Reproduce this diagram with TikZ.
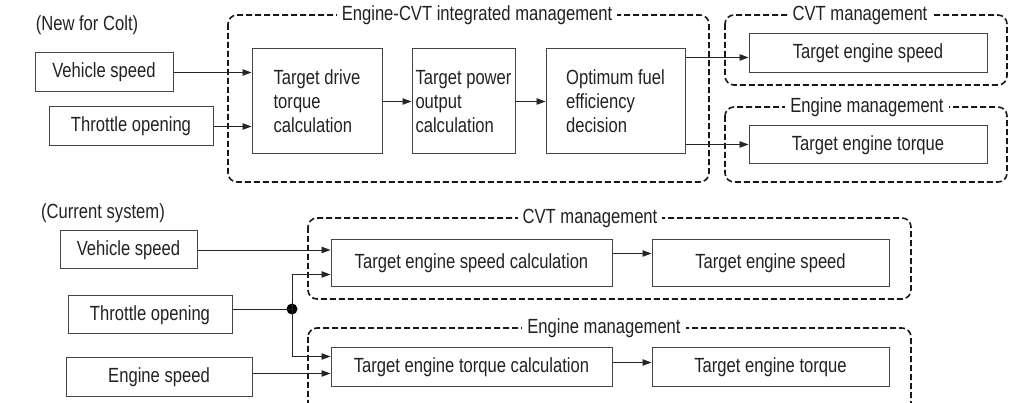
\documentclass[tikz,border=0pt]{standalone}
\usepackage{fontspec}
\setmainfont{Liberation Sans}[FakeStretch=0.81]
\usetikzlibrary{arrows.meta}
\definecolor{inkgray}{HTML}{222222}
\definecolor{boxgray}{HTML}{444444}

\begin{document}
\begin{tikzpicture}[x=1pt, y=-1pt,
    txt/.style={font=\fontsize{20.5}{24}\selectfont, text=inkgray},
    blk/.style={txt, draw=boxgray, line width=1pt, inner sep=0pt, align=left},
    grp/.style={draw=black!90, line width=1.6pt, dash pattern=on 6pt off 3pt, rounded corners=9pt},
    grplbl/.style={txt, fill=white, inner xsep=5pt, inner ysep=1pt},
    arr/.style={draw=black!85, line width=0.9pt, -{Triangle[length=9pt,width=6.5pt]}},
    dot/.style={circle, fill=black, inner sep=0pt, minimum size=11pt}]

      \useasboundingbox (0,0) rectangle (1010,403);

      \draw[grp] (228,15) rectangle (709,182);
      \draw[grp] (725,15) rectangle (1007,85);
      \draw[grp] (725,107) rectangle (1007,182);
      \draw[grp] (308,218) rectangle (911,299);
      \draw[grp] (308,328) rectangle (911,430);

      \node[grplbl] (ecvtlbl) at (477,15) {Engine-CVT integrated management};
      \node[grplbl] (cvtlbl1) at (860,15) {CVT management};
      \node[grplbl] (englbl1) at (867,107) {Engine management};
      \node[grplbl] (cvtlbl2) at (590,218) {CVT management};
      \node[grplbl] (englbl2) at (604,328) {Engine management};

      \node[txt] (newlbl) at (87,25) {(New for Colt)};
      \node[blk, minimum width=138pt, minimum height=39pt] (vs1) at (104,72.5) {Vehicle speed};
      \node[blk, minimum width=164pt, minimum height=39pt] (tp1) at (131,126.5) {Throttle opening};
      \node[blk, minimum width=130pt, minimum height=105pt] (tdtc) at (317,101.5) {Target drive\\torque\\calculation};
      \node[blk, minimum width=103pt, minimum height=105pt] (tpoc) at (463.5,101.5) {Target power\\output\\calculation};
      \node[blk, minimum width=139pt, minimum height=105pt] (ofed) at (615.5,101.5) {Optimum fuel\\efficiency\\decision};
      \node[blk, minimum width=238pt, minimum height=39pt] (tes1) at (868,53.5) {Target engine speed};
      \node[blk, minimum width=238pt, minimum height=38pt] (tet1) at (868,145) {Target engine torque};

      \coordinate (o1) at ([yshift=-9pt]ofed.north east);
      \coordinate (o2) at ([yshift=10pt]ofed.south east);

      \draw[arr] (vs1.east) -- (vs1.east -| tdtc.west);
      \draw[arr] (tp1.east) -- (tp1.east -| tdtc.west);
      \draw[arr] (tdtc.east) -- (tpoc.west);
      \draw[arr] (tpoc.east) -- (ofed.west);
      \draw[arr] (o1) -- (o1 -| tes1.west);
      \draw[arr] (o2) -- (o2 -| tet1.west);

      \node[txt] (curlbl) at (103,213) {(Current system)};
      \node[blk, minimum width=137pt, minimum height=38pt] (vs2) at (128.5,250) {Vehicle speed};
      \node[blk, minimum width=164pt, minimum height=38pt] (tp2) at (150,315) {Throttle opening};
      \node[blk, minimum width=186pt, minimum height=39pt] (es2) at (159,377.5) {Engine speed};
      \node[blk, minimum width=281pt, minimum height=47pt] (tesc) at (471.5,263.5) {Target engine speed calculation};
      \node[blk, minimum width=281pt, minimum height=39pt] (tetc) at (471.5,367.5) {Target engine torque calculation};
      \node[blk, minimum width=237pt, minimum height=47pt] (tes2) at (770.5,263.5) {Target engine speed};
      \node[blk, minimum width=237pt, minimum height=39pt] (tet2) at (770.5,367.5) {Target engine torque};
      \node[dot] (jn) at (292,309) {};

      \coordinate (j1) at ([yshift=-35pt]tesc.north west);
      \coordinate (j2) at ([yshift=-9pt]tetc.north west);
      \coordinate (e1) at ([yshift=14pt]tetc.south west);
      \coordinate (c1) at ([yshift=-14pt]tesc.north east);
      \coordinate (c2) at ([yshift=-15pt]tetc.north east);

      \draw[arr] (vs2.east) -- (vs2.east -| tesc.west);
      \draw[draw=black!85, line width=0.9pt] (tp2.east |- jn) -- (jn.center);
      \draw[arr] (jn.center) |- (j1);
      \draw[arr] (jn.center) |- (j2);
      \draw[arr] (es2.east |- e1) -- (e1);
      \draw[arr] (c1) -- (c1 -| tes2.west);
      \draw[arr] (c2) -- (c2 -| tet2.west);

\end{tikzpicture}
\end{document}
